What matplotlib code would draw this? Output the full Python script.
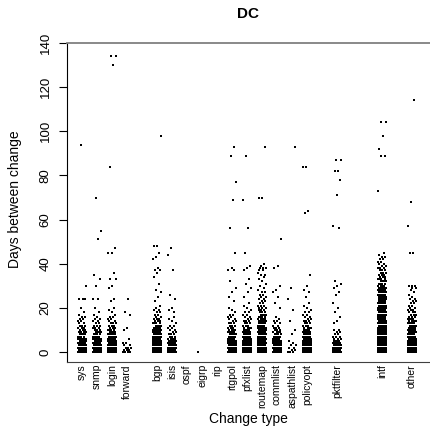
import numpy as np
import matplotlib
matplotlib.use('Agg')
import matplotlib.pyplot as plt

plt.rcParams['font.family'] = ['Liberation Sans', 'DejaVu Sans']

# change types, left to right
categories = ['sys', 'snmp', 'login', 'forward', 'bgp', 'isis', 'ospf', 'eigrp',
              'rip', 'rtgpol', 'pfxlist', 'routemap', 'commlist', 'aspathlist',
              'policyopt', 'pktfilter', 'intf', 'other']

# days between change: counts per whole day (0,1,2,...) for the dense part,
# plus the scattered values above it
sys_counts = [14, 12, 10, 9, 8, 7, 5, 4, 4, 4, 3, 3, 3, 2, 2, 2, 2, 1, 1]
sys_extra = [94, 30, 24, 24, 24, 20]
snmp_counts = [14, 12, 10, 9, 8, 7, 5, 5, 4, 4, 3, 3, 3, 2, 2, 2, 1, 1, 1]
snmp_extra = [70, 55, 51, 35, 33, 30, 24, 24, 20]
login_counts = [15, 13, 11, 10, 9, 8, 6, 5, 5, 4, 4, 3, 3, 3, 2, 2, 2, 1, 1, 1, 1]
login_extra = [134, 134, 130, 84, 47, 45, 45, 36, 33, 33, 30, 29, 24, 23]
forward_counts = [4, 3, 3, 2, 2]
forward_extra = [24, 18, 17, 11, 10, 6]
bgp_counts = [18, 16, 14, 13, 12, 11, 10, 9, 8, 7, 6, 5, 4, 4, 3, 3, 2, 2, 2, 2, 1]
bgp_extra = [98, 48, 48, 45, 43, 42, 38, 37, 37, 36, 34, 31, 28, 27, 25, 23, 21]
isis_counts = [10, 9, 8, 7, 6, 5, 4, 3, 3, 2, 2, 2, 2, 1, 1, 1, 1]
isis_extra = [47, 44, 37, 26, 24, 20, 19, 18]
ospf_counts = []
ospf_extra = []
eigrp_counts = [1]
eigrp_extra = []
rip_counts = []
rip_extra = []
rtgpol_counts = [14, 12, 11, 10, 9, 8, 6, 5, 5, 4, 4, 3, 3, 3, 2, 2, 2, 2, 1, 1, 1]
rtgpol_extra = [93, 89, 77, 69, 56, 45, 38, 37, 37, 32, 29, 27, 25, 23]
pfxlist_counts = [15, 13, 12, 11, 10, 9, 7, 6, 5, 5, 4, 4, 3, 3, 3, 2, 2, 2, 2, 1, 1, 1, 1]
pfxlist_extra = [89, 69, 56, 45, 39, 38, 37, 33, 31, 29, 27, 25]
routemap_counts = [16, 14, 13, 12, 11, 10, 9, 8, 7, 7, 6, 6, 5, 5, 5, 4, 4, 4, 3, 3,
                   3, 3, 2, 2, 2, 2, 2, 2, 1, 1, 1, 1, 1, 1, 1, 1, 1, 1, 1]
routemap_extra = [93, 70, 70, 40, 39, 38, 38, 37, 35]
commlist_counts = [14, 12, 11, 10, 9, 8, 6, 5, 4, 4, 3, 3, 2, 2, 2, 1, 1]
commlist_extra = [51, 39, 38, 30, 28, 27, 25, 22, 20]
aspathlist_counts = [3, 2, 2, 2, 1, 1]
aspathlist_extra = [93, 29, 24, 19, 14, 10, 8]
policyopt_counts = [15, 13, 12, 11, 10, 9, 7, 6, 5, 5, 4, 4, 3, 3, 3, 2, 2, 2, 2, 1, 1, 1, 1]
policyopt_extra = [84, 84, 64, 63, 35, 30, 28, 27, 25]
pktfilter_counts = [10, 9, 8, 6, 5, 4, 3, 3, 2, 2, 2]
pktfilter_extra = [87, 87, 82, 82, 78, 71, 57, 56, 32, 31, 30, 29, 27, 26, 22, 20, 18, 16, 14, 13]
intf_counts = [24, 22, 20, 18, 17, 16, 15, 14, 13, 12, 11, 11, 10, 10, 9, 9, 8, 8, 8, 7,
               7, 7, 6, 6, 6, 6, 5, 5, 5, 5, 4, 4, 4, 4, 3, 3, 3, 3, 3, 2, 2, 2, 2, 2, 1, 1]
intf_extra = [104, 104, 98, 92, 89, 89, 73]
other_counts = [15, 13, 12, 11, 10, 9, 8, 7, 7, 6, 6, 5, 5, 4, 4, 4, 3, 3, 3, 3,
                2, 2, 2, 2, 2, 1, 1, 1, 1, 1, 2]
other_extra = [114, 68, 57, 45, 45, 30, 29]

all_counts = [sys_counts, snmp_counts, login_counts, forward_counts, bgp_counts,
              isis_counts, ospf_counts, eigrp_counts, rip_counts, rtgpol_counts,
              pfxlist_counts, routemap_counts, commlist_counts, aspathlist_counts,
              policyopt_counts, pktfilter_counts, intf_counts, other_counts]
all_extra = [sys_extra, snmp_extra, login_extra, forward_extra, bgp_extra,
             isis_extra, ospf_extra, eigrp_extra, rip_extra, rtgpol_extra,
             pfxlist_extra, routemap_extra, commlist_extra, aspathlist_extra,
             policyopt_extra, pktfilter_extra, intf_extra, other_extra]

# slot of each category on the x axis (gaps between groups)
slots = [1, 2, 3, 4, 6, 7, 8, 9, 10, 11, 12, 13, 14, 15, 16, 18, 21, 23]

fig = plt.figure(figsize=(4.3, 4.29), dpi=100)
ax = fig.add_axes([67/430, 67/429, 363/430, 319/429])

jit = 0.28
for pos, c, e in zip(slots, all_counts, all_extra):
    y = np.concatenate([np.repeat(np.arange(len(c)), c), np.array(e, dtype=float)])
    if len(y) == 0:
        continue
    # spread the points sideways (low-discrepancy jitter)
    off = ((np.arange(len(y)) * 0.618034) % 1 - 0.5) * 2 * jit
    ax.scatter(pos + off, y, marker='s', s=2.8, color='k', linewidths=0)

ax.set_xlim(0, 24.2)
ax.set_ylim(-4.5, 140)
ax.set_xticks(slots)
ax.set_xticklabels(categories, rotation=90, fontsize=7.5, va='top', ha='center')
ax.tick_params(axis='x', length=0, pad=1.5)
ax.set_yticks(range(0, 141, 20))
ax.tick_params(axis='y', length=6, width=0.8, pad=5, labelsize=9.5)
for lab in ax.get_yticklabels():
    lab.set_rotation(90)
    lab.set_va('center')
    lab.set_ha('right')

ax.spines['right'].set_visible(False)
ax.spines['top'].set_color('#808080')
ax.spines['top'].set_linewidth(1.3)
ax.spines['bottom'].set_color('#404040')
ax.spines['left'].set_linewidth(0.8)

ax.set_title('DC', fontsize=11, fontweight='bold', pad=18)
ax.set_xlabel('Change type', fontsize=10)
ax.xaxis.set_label_coords(0.5, -0.157)
ax.set_ylabel('Days between change', fontsize=10)
ax.yaxis.set_label_coords(-0.125, 0.51)

fig.savefig('out.png', dpi=100)
